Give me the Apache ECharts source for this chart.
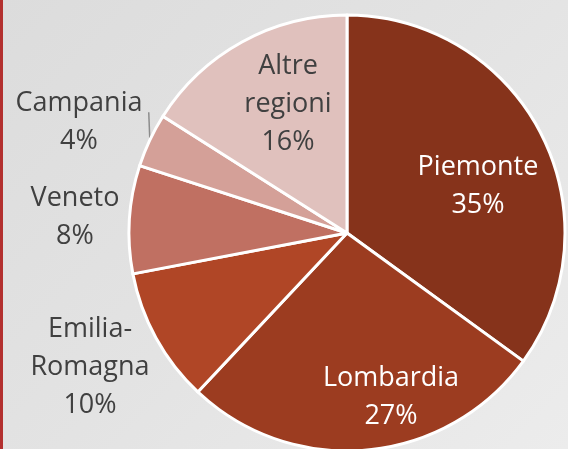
<!DOCTYPE html>
<html>
<head>
<meta charset="utf-8">
<script src="https://cdn.jsdelivr.net/npm/echarts@6/dist/echarts.min.js"></script>
<style>
  html, body { margin: 0; padding: 0; }
  #wrap { position: relative; width: 568px; height: 449px; }
  #chart {
    width: 568px; height: 449px;
    background: linear-gradient(135deg, #dcdcdc 0%, #e3e3e3 50%, #ececec 100%);
  }
  #bar { position: absolute; left: 0; top: 0; width: 3px; height: 449px; background: #b3302f; z-index: 5; }
</style>
</head>
<body>
<div id="wrap">
  <div id="chart"></div>
  <div id="bar"></div>
</div>
<script>
// regions and share of the total (%)
var regions = ['Piemonte', 'Lombardia', 'Emilia-\nRomagna', 'Veneto', 'Campania', 'Altre\nregioni'];
var shares = [35, 27, 10, 8, 4, 16];
var colors = ['#86331b', '#9c3c20', '#b04626', '#c07062', '#d4a098', '#e0c1bd'];
var textColors = ['#ffffff', '#ffffff', '#404040', '#404040', '#404040', '#404040'];
// where each label block is centred
var labelAt = [[478, 186], [391, 397], [90, 367], [75, 217], [79, 122], [288, 104]];

var cx = 347, cy = 233, R = 218;

var chart = echarts.init(document.getElementById('chart'));

var items = regions.map(function (name, i) {
  return {
    name: name,
    value: shares[i],
    itemStyle: { color: colors[i] },
    label: { color: textColors[i] },
    labelLine: { show: i === 4 }
  };
});

// mid angle of a slice, clockwise from 12 o'clock
function midAngle(idx) {
  var total = shares.reduce(function (a, b) { return a + b; }, 0);
  var before = 0;
  for (var k = 0; k < idx; k++) before += shares[k];
  return (before + shares[idx] / 2) / total * Math.PI * 2;
}

chart.setOption({
  animation: false,
  series: [{
    type: 'pie',
    center: [cx, cy],
    radius: R,
    startAngle: 90,
    clockwise: true,
    avoidLabelOverlap: false,
    data: items,
    itemStyle: { borderColor: '#ffffff', borderWidth: 3 },
    label: {
      show: true,
      position: 'outside',
      formatter: '{b}\n{c}%',
      fontFamily: 'Open Sans',
      fontSize: 27,
      lineHeight: 38,
      align: 'center',
      overflow: 'none'
    },
    labelLine: {
      lineStyle: { color: '#8c8c8c', width: 1.5 }
    },
    labelLayout: function (params) {
      var i = params.dataIndex;
      var out = {
        x: labelAt[i][0],
        y: labelAt[i][1],
        align: 'center',
        verticalAlign: 'middle',
        hideOverlap: false,
        moveOverlap: null
      };
      if (i === 4) {
        var a = midAngle(i);
        var ex = cx + R * Math.sin(a), ey = cy - R * Math.cos(a);
        out.labelLinePoints = [[ex, ey - 2], [ex - 0.5, ey - 15], [ex - 1, ey - 28]];
      }
      return out;
    }
  }]
});
</script>
</body>
</html>
